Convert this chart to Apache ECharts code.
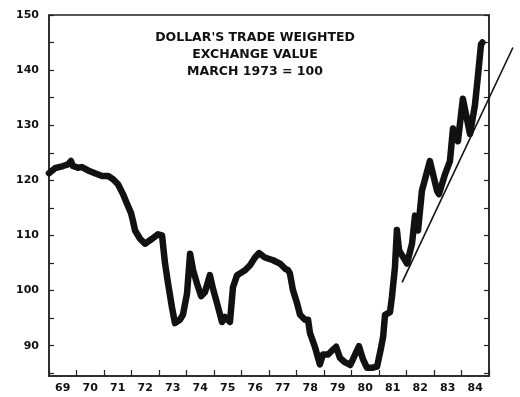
<!DOCTYPE html>
<html>
<head>
<meta charset="utf-8">
<script src="https://cdn.jsdelivr.net/npm/echarts@6/dist/echarts.min.js"></script>
<style>
html,body{margin:0;padding:0;background:#fff;}
#c{width:520px;height:397px;}
</style>
</head>
<body>
<div id="c"></div>
<script>
// Year labels on the bottom axis
var yearLabels = ['69','70','71','72','73','74','75','76','77','78','79','80','81','82','83','84'];
// Y axis tick labels
var yTickLabels = [90,100,110,120,130,140,150];
var yMinorTicks = [85,90,95,100,105,110,115,120,125,130,135,140,145,150];

// Dollar trade weighted exchange value (March 1973 = 100)
var dates = [1969.0,1969.22,1969.51,1969.69,1969.80,1969.87,1970.05,1970.20,1970.42,1970.67,1970.93,1971.15,1971.33,1971.51,1971.69,1971.84,1971.98,1972.05,1972.13,1972.31,1972.49,1972.75,1972.96,1973.11,1973.22,1973.33,1973.47,1973.58,1973.76,1973.87,1974.02,1974.13,1974.24,1974.38,1974.53,1974.67,1974.85,1974.96,1975.11,1975.29,1975.40,1975.58,1975.69,1975.84,1976.13,1976.31,1976.49,1976.64,1976.85,1977.15,1977.40,1977.58,1977.69,1977.76,1977.87,1978.02,1978.13,1978.31,1978.42,1978.49,1978.67,1978.85,1978.96,1979.15,1979.33,1979.44,1979.58,1979.76,1979.95,1980.05,1980.27,1980.42,1980.56,1980.75,1980.93,1981.07,1981.15,1981.22,1981.40,1981.47,1981.58,1981.65,1981.73,1982.02,1982.20,1982.31,1982.42,1982.56,1982.85,1983.11,1983.18,1983.40,1983.58,1983.69,1983.87,1984.05,1984.31,1984.49,1984.60,1984.71,1984.76];
var values = [121.3,122.2,122.6,122.9,123.5,122.6,122.3,122.4,121.8,121.3,120.8,120.8,120.2,119.3,117.5,115.7,114.1,112.7,110.9,109.4,108.5,109.4,110.2,110.0,104.9,101.3,97.0,94.1,94.7,95.6,99.5,106.7,103.7,101.3,99.0,99.7,102.8,100.4,97.7,94.3,95.2,94.3,100.6,102.8,103.7,104.6,106.0,106.8,106.0,105.5,104.9,104.0,103.7,103.1,100.1,97.7,95.6,94.7,94.7,92.3,89.8,86.6,88.4,88.4,89.3,89.8,87.8,87.0,86.5,87.5,89.9,87.5,86.0,86.0,86.2,89.5,91.6,95.6,96.1,98.8,104.2,111.0,107.3,104.9,108.5,113.6,110.9,118.1,123.5,118.1,117.5,121.1,123.5,129.4,127.1,134.8,128.4,133.7,139.1,144.7,145.0];

// Hand-drawn trend line end points (it runs past the right edge of the frame)
var trendDates = [1981.84, 1985.87];
var trendValues = [101.5, 144.1];

var mainData = dates.map(function(d, i){ return [d, values[i]]; });
var trendData = trendDates.map(function(d, i){ return [d, trendValues[i]]; });

var ink = '#111';
var labelFont = {color: ink, fontWeight: 'bold', fontSize: 11, fontFamily: 'DejaVu Sans'};

// frame geometry
var gLeft = 49, gRight = 31, gTop = 15, gBottom = 21;
var xMin = 1969, xMax = 1985;
var pxPerYear = (520 - gLeft - gRight) / (xMax - xMin);
// the overlay grid for the trend line extends to the page's right edge
var xMaxWide = xMin + (520 - gLeft) / pxPerYear;

var chart = echarts.init(document.getElementById('c'), null, {renderer: 'canvas'});
chart.setOption({
  backgroundColor: '#ffffff',
  animation: false,
  grid: [
    {left: gLeft, right: gRight, top: gTop, bottom: gBottom, show: true, borderColor: '#222', borderWidth: 1.5, backgroundColor: 'transparent'},
    {left: gLeft, right: 0, top: gTop, bottom: gBottom, show: false}
  ],
  graphic: [{
    type: 'text',
    x: 255,
    y: 29,
    style: {
      text: "DOLLAR'S TRADE WEIGHTED\nEXCHANGE VALUE\nMARCH 1973 = 100",
      align: 'center', textAlign: 'center',
      verticalAlign: 'top', textVerticalAlign: 'top',
      fill: ink,
      font: 'bold 12.5px "DejaVu Sans"',
      lineHeight: 17
    }
  }],
  xAxis: [{
    type: 'category',
    gridIndex: 0,
    data: yearLabels,
    position: 'bottom',
    boundaryGap: true,
    axisLine: {show: true, lineStyle: {color: '#222', width: 1.5}},
    axisTick: {show: true, inside: true, length: 6, interval: 0, lineStyle: {color: '#222', width: 1.2}},
    axisLabel: Object.assign({interval: 0, margin: 7}, labelFont),
    splitLine: {show: false}
  }, {
    type: 'value',
    gridIndex: 0,
    min: xMin,
    max: xMax,
    show: false
  }, {
    type: 'value',
    gridIndex: 1,
    min: xMin,
    max: xMaxWide,
    show: false
  }],
  yAxis: [{
    type: 'value',
    gridIndex: 0,
    position: 'left',
    min: 84.5,
    max: 150,
    axisLine: {show: true, lineStyle: {color: '#222', width: 1.5}},
    axisTick: {show: true, inside: true, length: 5, customValues: yMinorTicks, lineStyle: {color: '#222', width: 1.2}},
    axisLabel: Object.assign({margin: 10, customValues: yTickLabels}, labelFont),
    splitLine: {show: false}
  }, {
    type: 'value',
    gridIndex: 0,
    position: 'right',
    min: 84.5,
    max: 150,
    axisLine: {show: true, lineStyle: {color: '#222', width: 1.5}},
    axisTick: {show: true, inside: true, length: 5, customValues: yMinorTicks, lineStyle: {color: '#222', width: 1.2}},
    axisLabel: {show: false},
    splitLine: {show: false}
  }, {
    type: 'value',
    gridIndex: 1,
    min: 84.5,
    max: 150,
    show: false
  }],
  series: [{
    type: 'line',
    xAxisIndex: 1,
    yAxisIndex: 0,
    data: mainData,
    showSymbol: false,
    symbol: 'none',
    lineStyle: {color: ink, width: 6.5, cap: 'round', join: 'round'}
  }, {
    type: 'line',
    xAxisIndex: 2,
    yAxisIndex: 2,
    data: trendData,
    showSymbol: false,
    symbol: 'none',
    lineStyle: {color: ink, width: 1.6}
  }]
});
</script>
</body>
</html>
